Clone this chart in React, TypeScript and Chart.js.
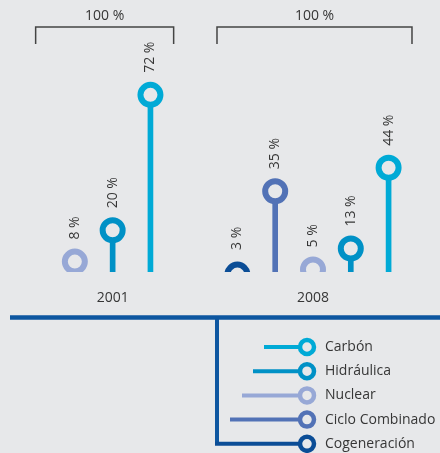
import React, { useEffect, useRef } from "react";
import { Chart, registerables } from "chart.js";

Chart.register(...registerables);

// ---- data ----
const YEARS = ["2001", "2008"];
const YEAR_TOTALS = ["100 %", "100 %"];
const SOURCES = ["Carbón", "Hidráulica", "Nuclear", "Ciclo Combinado", "Cogeneración"];
const SHARE_2001: (number | null)[] = [72, 20, 8, null, null];
const SHARE_2008: (number | null)[] = [44, 13, 5, 35, 3];
const COLORS = ["#00aad6", "#0091c6", "#97a8d6", "#5272b6", "#0b4d96"];

// ---- style ----
const BG = "#e7e8ea";
const TEXT = "#363636";
const AXIS_BLUE = "#0d56a0";
const FONT = "'Open Sans', 'Noto Sans', sans-serif";
const FONT_SIZE = 14;
const GROUP_SPACING = 5.3;

type Pt = { x: number; y: number; color: string; label: string };

function buildPoints(): Pt[] {
  const shares = [SHARE_2001, SHARE_2008];
  const pts: Pt[] = [];
  shares.forEach((arr, g) => {
    const idx = SOURCES.map((_, i) => i)
      .reverse()
      .filter((i) => arr[i] != null);
    idx.forEach((si, k) => {
      pts.push({
        x: g * GROUP_SPACING + k - (idx.length - 1) / 2,
        y: arr[si] as number,
        color: COLORS[si],
        label: `${arr[si]} %`,
      });
    });
  });
  return pts;
}

export default function App() {
  const ref = useRef<HTMLCanvasElement | null>(null);

  useEffect(() => {
    document.body.style.margin = "0";
    document.body.style.background = BG;
    const canvas = ref.current;
    if (!canvas) return;
    const points = buildPoints();

    const annot = {
      id: "annot",
      afterDraw(chart: any) {
        const ctx = chart.ctx as CanvasRenderingContext2D;
        const xs = chart.scales.x;
        const ys = chart.scales.y;
        const area = chart.chartArea;
        ctx.save();

        // value labels (rotated)
        ctx.font = `${FONT_SIZE}px ${FONT}`;
        ctx.fillStyle = TEXT;
        points.forEach((p) => {
          const px = xs.getPixelForValue(p.x);
          const py = Math.min(ys.getPixelForValue(p.y), area.bottom);
          ctx.save();
          ctx.translate(px, py - 22);
          ctx.rotate(-Math.PI / 2);
          ctx.textAlign = "left";
          ctx.textBaseline = "middle";
          ctx.fillText(p.label, 0, 0);
          ctx.restore();
        });

        // brackets, totals, year labels
        const spans = [
          [-77, 61],
          [-96, 99],
        ];
        YEARS.forEach((yr, g) => {
          const c = xs.getPixelForValue(g * GROUP_SPACING);
          const l = c + spans[g][0];
          const r = c + spans[g][1];
          ctx.beginPath();
          ctx.strokeStyle = "#444444";
          ctx.lineWidth = 1.5;
          ctx.moveTo(l, 44);
          ctx.lineTo(l, 27);
          ctx.lineTo(r, 27);
          ctx.lineTo(r, 44);
          ctx.stroke();
          ctx.fillStyle = TEXT;
          ctx.font = `${FONT_SIZE}px ${FONT}`;
          ctx.textAlign = "center";
          ctx.textBaseline = "middle";
          ctx.fillText(YEAR_TOTALS[g], (l + r) / 2, 16);
          ctx.fillText(yr, c, 298);
        });

        // axis line + connector
        ctx.strokeStyle = AXIS_BLUE;
        ctx.lineWidth = 4.5;
        ctx.beginPath();
        ctx.moveTo(10, 317.5);
        ctx.lineTo(440, 317.5);
        ctx.stroke();
        ctx.lineWidth = 4;
        ctx.beginPath();
        ctx.moveTo(217, 317);
        ctx.lineTo(217, 444);
        ctx.stroke();

        // legend
        const lineStarts = [264, 253, 242, 230, 215];
        SOURCES.forEach((s, i) => {
          const y = 347 + i * 24.2;
          ctx.strokeStyle = COLORS[i];
          ctx.lineWidth = 4;
          ctx.beginPath();
          ctx.moveTo(lineStarts[i], y);
          ctx.lineTo(300, y);
          ctx.stroke();
          ctx.beginPath();
          ctx.lineWidth = 4.5;
          ctx.fillStyle = BG;
          ctx.arc(307, y, 7, 0, Math.PI * 2);
          ctx.fill();
          ctx.stroke();
          ctx.fillStyle = TEXT;
          ctx.font = `${FONT_SIZE}px ${FONT}`;
          ctx.textAlign = "left";
          ctx.textBaseline = "middle";
          ctx.fillText(s, 325, y);
        });
        ctx.restore();
      },
    };

    const chart = new Chart(canvas, {
      type: "bar",
      data: {
        datasets: [
          {
            type: "bar",
            data: points.map((p) => ({ x: p.x, y: p.y })),
            backgroundColor: points.map((p) => p.color),
            barThickness: 5,
            clip: 0,
            order: 2,
          } as any,
          {
            type: "line",
            data: points.map((p) => ({ x: p.x, y: p.y })),
            showLine: false,
            pointRadius: 10,
            pointHoverRadius: 10,
            pointBorderWidth: 6,
            pointHoverBorderWidth: 6,
            pointBackgroundColor: BG,
            pointBorderColor: points.map((p) => p.color),
            clip: { left: false, right: false, top: false, bottom: 0 },
            order: 1,
          } as any,
        ],
      },
      options: {
        animation: false,
        responsive: false,
        events: [],
        layout: { autoPadding: false, padding: { top: 74, bottom: 181, left: 0, right: 0 } },
        scales: {
          x: { type: "linear", min: -2.98, max: 8.66, offset: false, display: false },
          y: { type: "linear", min: 4, max: 80, display: false },
        },
        plugins: { legend: { display: false }, tooltip: { enabled: false } },
      },
      plugins: [annot],
    });
    return () => chart.destroy();
  }, []);

  return (
    <div style={{ width: 440, height: 453, background: BG }}>
      <canvas ref={ref} width={440} height={453} style={{ display: "block", width: 440, height: 453 }} />
    </div>
  );
}
